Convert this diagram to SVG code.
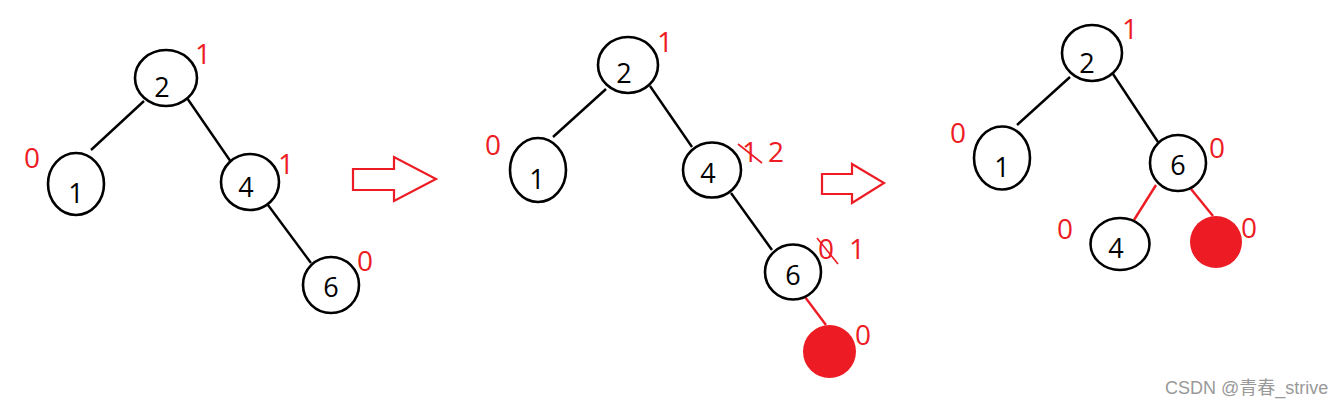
<svg xmlns="http://www.w3.org/2000/svg" width="1344" height="406" viewBox="0 0 1344 406">
<style>
.n{fill:none;stroke:#000;stroke-width:2.6}
.t{font-family:"Open Sans","Noto Sans",sans-serif;font-size:27px;fill:#000;text-anchor:middle}
.r{font-family:"Open Sans","Noto Sans",sans-serif;font-size:28px;fill:#ed1c24;text-anchor:middle}
.e{stroke:#000;stroke-width:2.4;fill:none}
.er{stroke:#ed1c24;stroke-width:2.4;fill:none}
.x{stroke:#ed1c24;stroke-width:1.6;fill:none}
.arr{fill:none;stroke:#ed1c24;stroke-width:2.2}
.w{font-family:"Liberation Sans","Noto Sans CJK SC",sans-serif;font-size:18px;fill:#999}
</style>
<rect width="1344" height="406" fill="#fff"/>
<g id="connectors">
<line class="e" x1="144" y1="101" x2="91" y2="150"/>
<line class="e" x1="187" y1="98" x2="231" y2="162"/>
<line class="e" x1="268" y1="205" x2="311" y2="263"/>
<line class="e" x1="606" y1="89" x2="553" y2="137"/>
<line class="e" x1="650" y1="86" x2="692" y2="147"/>
<line class="e" x1="731" y1="193" x2="772" y2="250"/>
<line class="er" x1="805" y1="297" x2="826" y2="325"/>
<line class="e" x1="1070" y1="77" x2="1017" y2="125"/>
<line class="e" x1="1113" y1="74" x2="1158" y2="142"/>
<line class="er" x1="1156" y1="185" x2="1134" y2="220"/>
<line class="er" x1="1191" y1="189" x2="1213" y2="216"/>
</g>
<g id="arrow1"><polygon class="arr" points="353,169 394,169 394,157 436,179 394,201 394,190 353,190"/></g>
<g id="arrow2"><polygon class="arr" points="822,174 852,174 852,164 884,183 852,203 852,194 822,194"/></g>
<g id="p1n2"><ellipse class="n" cx="166" cy="78" rx="31" ry="28"/><text class="t" x="162" y="97">2</text><text class="r" x="203" y="64">1</text></g>
<g id="p1n1"><ellipse class="n" cx="76" cy="184" rx="28" ry="31"/><text class="t" x="76" y="203">1</text><text class="r" x="32" y="168">0</text></g>
<g id="p1n4"><ellipse class="n" cx="250" cy="182" rx="29" ry="28"/><text class="t" x="246" y="197">4</text><text class="r" x="286" y="174">1</text></g>
<g id="p1n6"><ellipse class="n" cx="331" cy="285" rx="28" ry="28"/><text class="t" x="331" y="297">6</text><text class="r" x="365" y="271">0</text></g>
<g id="p2n2"><ellipse class="n" cx="628" cy="65" rx="30" ry="28"/><text class="t" x="624" y="83">2</text><text class="r" x="665" y="52">1</text></g>
<g id="p2n1"><ellipse class="n" cx="538" cy="170" rx="28" ry="32"/><text class="t" x="537" y="189">1</text><text class="r" x="493" y="155">0</text></g>
<g id="p2n4"><ellipse class="n" cx="712" cy="170" rx="29" ry="27.5"/><text class="t" x="708" y="183">4</text><text class="r" x="750" y="162">1</text><line class="x" x1="738" y1="144" x2="762" y2="163"/><text class="r" x="776" y="162">2</text></g>
<g id="p2n6"><ellipse class="n" cx="793" cy="272" rx="28" ry="27.5"/><text class="t" x="793" y="285">6</text><text class="r" x="826" y="259">0</text><line class="x" x1="817" y1="238" x2="838" y2="264"/><text class="r" x="857" y="259">1</text></g>
<g id="p2new"><circle cx="829.5" cy="351.5" r="26.5" fill="#ed1c24"/><text class="r" x="863" y="345">0</text></g>
<g id="p3n2"><ellipse class="n" cx="1092" cy="53" rx="30" ry="28"/><text class="t" x="1087" y="73">2</text><text class="r" x="1130" y="39">1</text></g>
<g id="p3n1"><ellipse class="n" cx="1002" cy="158" rx="28" ry="31.5"/><text class="t" x="1002" y="177">1</text><text class="r" x="958" y="143">0</text></g>
<g id="p3n6"><ellipse class="n" cx="1178" cy="163" rx="28" ry="28"/><text class="t" x="1178" y="175">6</text><text class="r" x="1217" y="158">0</text></g>
<g id="p3n4"><ellipse class="n" cx="1120" cy="244" rx="29.5" ry="26"/><text class="t" x="1116" y="258">4</text><text class="r" x="1065" y="239">0</text></g>
<g id="p3new"><circle cx="1216" cy="242" r="26" fill="#ed1c24"/><text class="r" x="1249" y="238">0</text></g>
<text class="w" x="1165" y="394">CSDN @青春_strive</text>
</svg>
